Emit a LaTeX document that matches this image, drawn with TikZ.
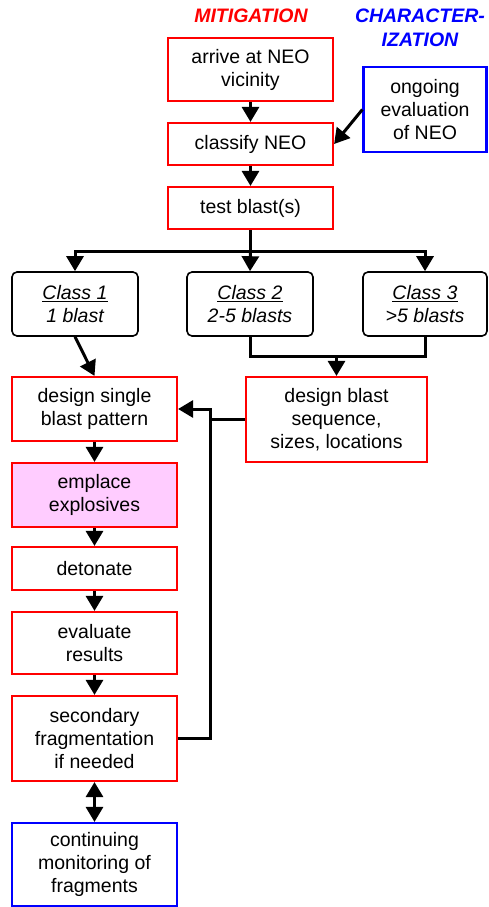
\documentclass[tikz,border=0pt]{standalone}
\usepackage{fontspec}
\setmainfont{Liberation Sans}
\usetikzlibrary{arrows.meta}
\definecolor{pinkfill}{HTML}{FFCCFF}
\begin{document}
\begin{tikzpicture}[x=1pt,y=-1pt,
  txt/.style={font=\fontsize{19.5}{23}\selectfont, align=center, inner sep=0pt},
  redbox/.style={txt, draw=red, line width=2.2pt},
  bluebox/.style={txt, draw=blue, line width=2.2pt},
  classbox/.style={txt, draw=black, line width=1.6pt, rounded corners=5pt, font=\fontsize{19.5}{23}\selectfont\itshape},
  conn/.style={line width=3pt, black},
  arr/.style={conn, -{Triangle[length=15pt,width=17pt]}},
  arrtwo/.style={conn, {Triangle[length=15pt,width=17pt]}-{Triangle[length=15pt,width=17pt]}},
  title/.style={font=\fontsize{19.5}{23.7}\selectfont\bfseries\itshape, align=center, inner sep=0pt}
]
\useasboundingbox (0,0) rectangle (488,907);
\node[title, text=red] (tmit) at (251,15.7) {MITIGATION};
\node[title, text=blue] (tchar) at (420,27.6) {CHARACTER-\\IZATION};

\node[redbox, minimum width=165pt, minimum height=63pt] (arr1) at (250.5,69.5) {arrive at NEO\\vicinity};
\node[redbox, minimum width=165pt, minimum height=42pt] (cl) at (250.5,144) {classify NEO};
\node[redbox, minimum width=165pt, minimum height=42pt] (tb) at (250.5,208) {test blast(s)};
\node[bluebox, minimum width=123pt, minimum height=85pt] (og) at (425,109.5) {ongoing\\evaluation\\of NEO};

\node[classbox, minimum width=126pt, minimum height=64pt] (c1) at (75,304) {\underline{Class 1}\\1 blast};
\node[classbox, minimum width=126pt, minimum height=64pt] (c2) at (250,304) {\underline{Class 2}\\2-5 blasts};
\node[classbox, minimum width=124pt, minimum height=64pt] (c3) at (425,304) {\underline{Class 3}\\>5 blasts};

\node[redbox, minimum width=165pt, minimum height=64pt] (ds) at (94.5,409) {design single\\blast pattern};
\node[redbox, minimum width=181pt, minimum height=85pt] (seq) at (336.5,419.5) {design blast\\sequence,\\sizes, locations};
\node[redbox, fill=pinkfill, minimum width=165pt, minimum height=64pt] (emp) at (94.5,495) {emplace\\explosives};
\node[redbox, minimum width=165pt, minimum height=43pt] (det) at (94.5,568.5) {detonate};
\node[redbox, minimum width=165pt, minimum height=62pt] (ev) at (94.5,643) {evaluate\\results};
\node[redbox, minimum width=165pt, minimum height=85pt] (sec) at (94.5,738.5) {secondary\\fragmentation\\if needed};
\node[bluebox, minimum width=165pt, minimum height=83pt] (cont) at (94.5,864.5) {continuing\\monitoring of\\fragments};

\coordinate (j) at (250.5,251);
\coordinate (m) at (336.5,356);
\coordinate (fb) at (210,409);

\draw[arr] (arr1) -- (cl);
\draw[arr] (cl) -- (tb);
\draw[arr] (og.west) -- (cl.east);
\draw[conn] (tb.south) -- (j);
\draw[arr] (j) -| (c1.north);
\draw[arr] (j) -| (c3.north);
\draw[arr] (j) -- (c2.north);
\draw[arr] (c1.south) -- (ds.north);
\draw[conn] (c2.south) |- (c3.south |- m) -- (c3.south);
\draw[arr] (m) -- (seq.north);
\draw[arr] (ds) -- (emp);
\draw[arr] (emp) -- (det);
\draw[arr] (det) -- (ev);
\draw[arr] (ev) -- (sec);
\draw[arr] (sec.east) -| (fb) -- (ds.east);
\draw[conn] (seq.west) -- (seq.west -| fb);
\draw[arrtwo] (sec.south) -- (cont.north);
\end{tikzpicture}
\end{document}
